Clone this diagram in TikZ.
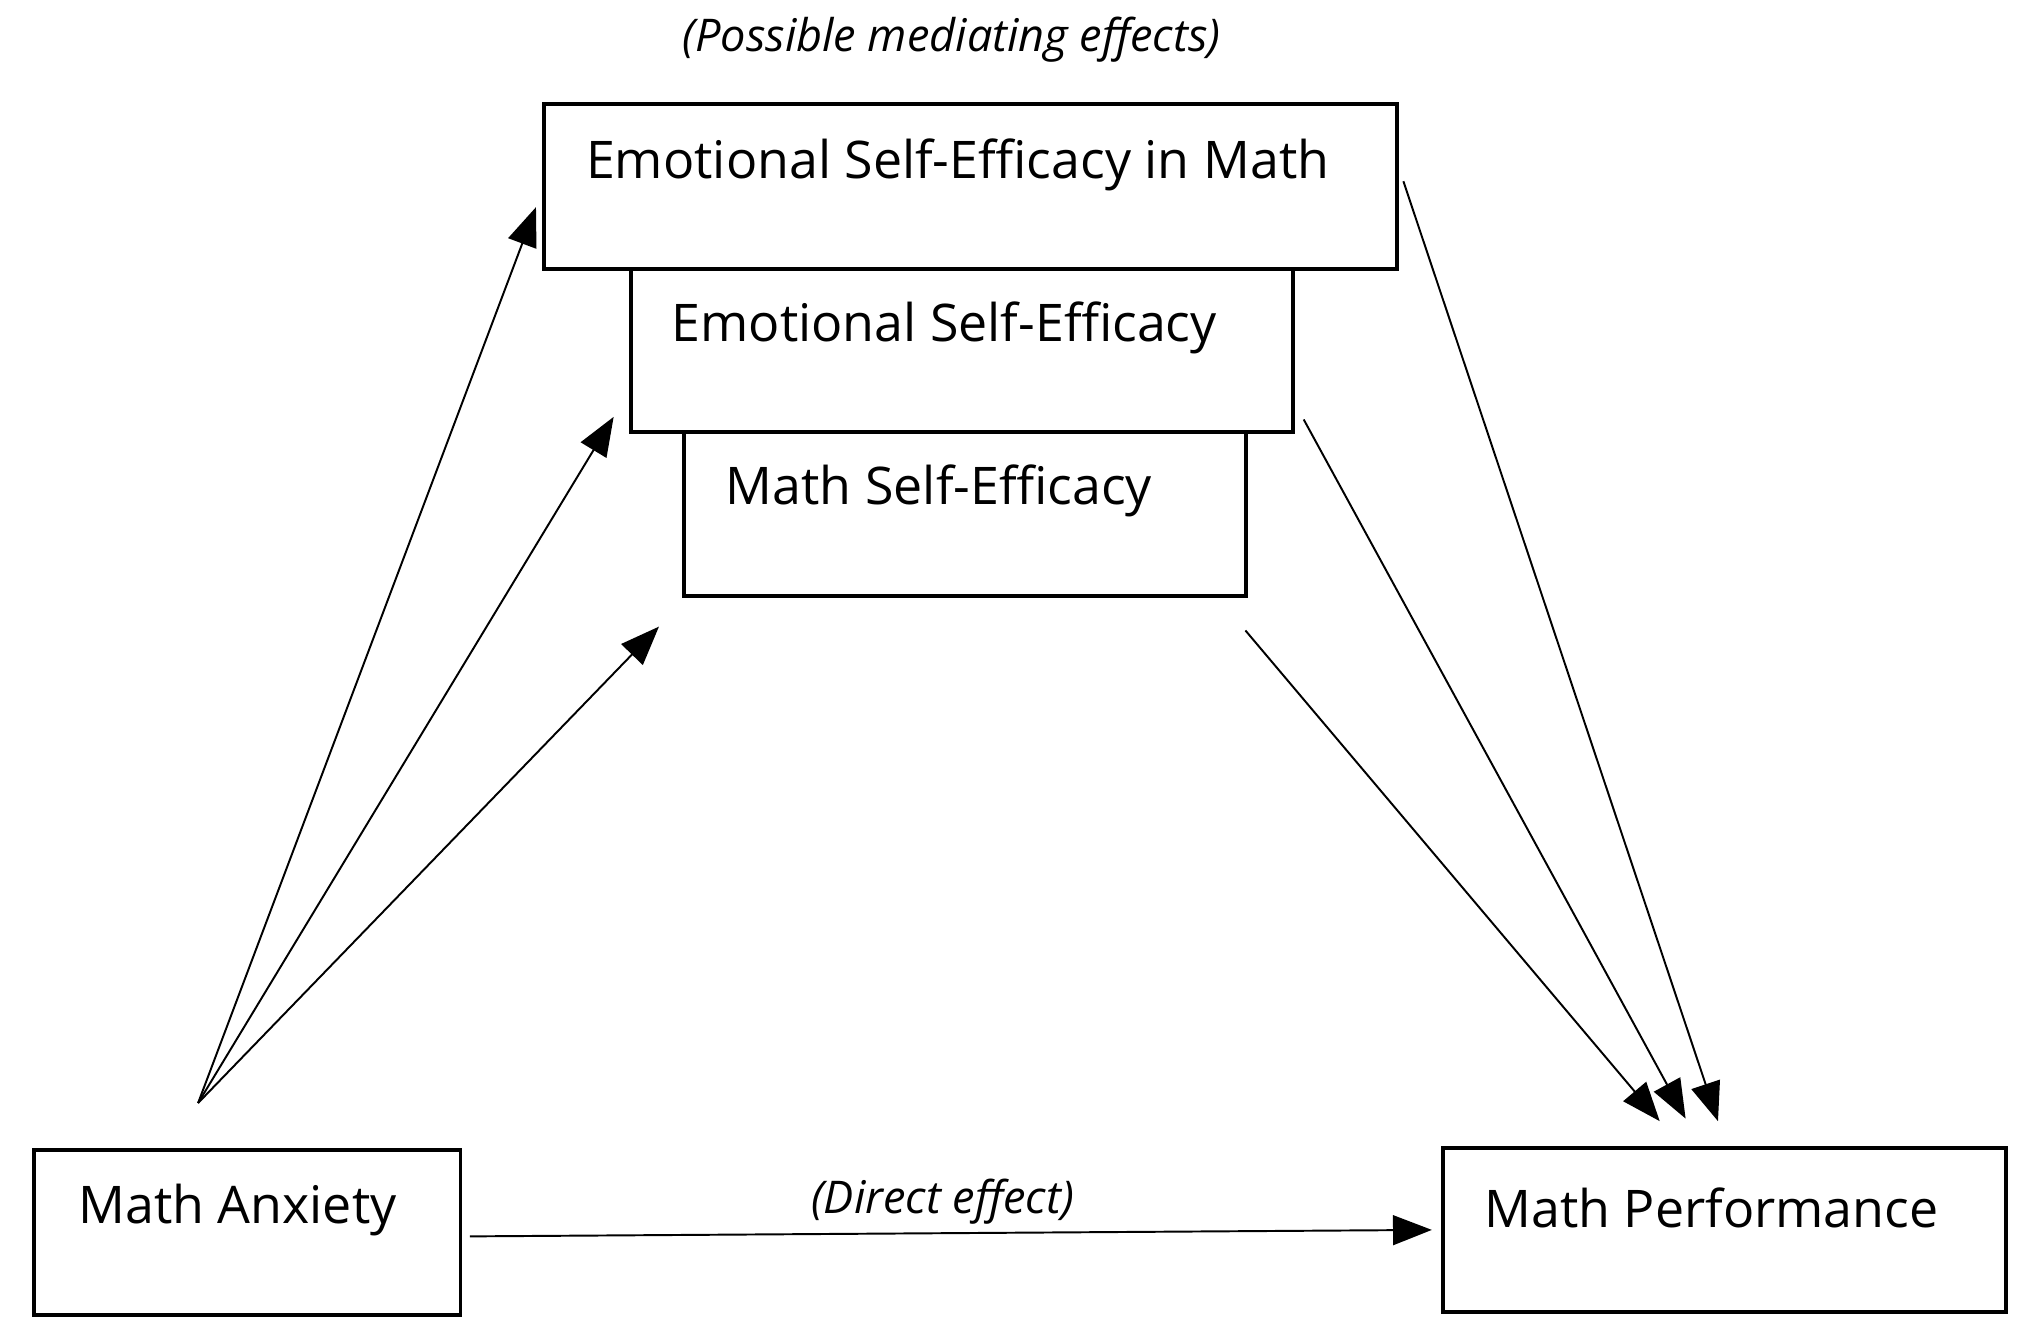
\documentclass[tikz,border=0pt]{standalone}
\usepackage{fontspec}
\setmainfont{Open Sans}
\usetikzlibrary{arrows.meta}
\tikzset{
  box/.style={draw, line width=0.3mm, anchor=north west, inner sep=0pt},
  txt/.style={anchor=west, font=\fontsize{11.4}{14}\selectfont, inner sep=0pt},
  note/.style={font=\itshape\fontsize{9.9}{12}\selectfont, inner sep=0pt},
  arr/.style={-{Triangle[length=3mm,width=2.3mm]}, line width=0.15mm}
}
\begin{document}
\begin{tikzpicture}[x=0.01cm,y=-0.01cm]
\useasboundingbox (0,0) rectangle (1568,1036);

\node[box, minimum width=6.58cm, minimum height=1.27cm] (esem) at (419,79) {};
\node[box, minimum width=5.11cm, minimum height=1.26cm] (ese) at (486,206) {};
\node[box, minimum width=4.34cm, minimum height=1.27cm] (mse) at (527,332) {};
\node[box, minimum width=3.29cm, minimum height=1.27cm] (ma) at (25,887) {};
\node[box, minimum width=4.35cm, minimum height=1.27cm] (mp) at (1113,885) {};

\node[txt] at (452,127) {Emotional Self-Efficacy in Math};
\node[txt] at (518,253) {Emotional Self-Efficacy};
\node[txt] at (560,379) {Math Self-Efficacy};
\node[txt] at (60,935) {Math Anxiety};
\node[txt] at (1146,933) {Math Performance};

\node[note] (med) at (735,31) {(Possible mediating effects)};
\node[note] (dir) at (728,928) {(Direct effect)};

% free ends of the connectors
\coordinate (src) at (153,852);
\coordinate (a1) at (414,160);
\coordinate (a2) at (474,322);
\coordinate (a3) at (509,484);
\coordinate (b1) at (1084,140);
\coordinate (b2) at (1007,324);
\coordinate (b3) at (962,487);
\coordinate (t1) at (1327,866);
\coordinate (t2) at (1302,864);
\coordinate (t3) at (1282,866);
\coordinate (ds) at (363,955);
\coordinate (de) at (1106,950);

\foreach \e in {a1,a2,a3} \draw[arr] (src) -- (\e);
\draw[arr] (b1) -- (t1);
\draw[arr] (b2) -- (t2);
\draw[arr] (b3) -- (t3);
\draw[arr] (ds) -- (de);
\end{tikzpicture}
\end{document}
